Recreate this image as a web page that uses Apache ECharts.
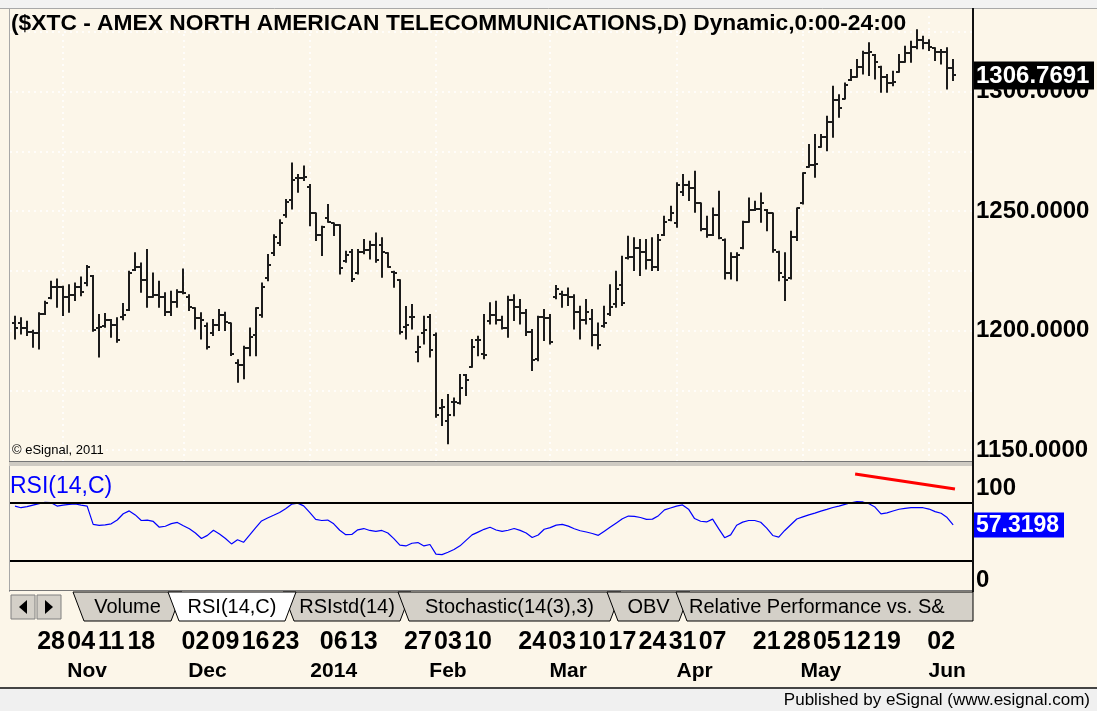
<!DOCTYPE html>
<html><head><meta charset="utf-8">
<script src="https://cdn.jsdelivr.net/npm/echarts@6/dist/echarts.min.js"></script>
<style>html,body{margin:0;padding:0;background:#fff}#c{width:1097px;height:711px}</style>
</head><body><div id="c"></div>
<script>
// ---------- DATA ----------
const opens = [1203,1203,1200.9,1199.5,1198.8,1206.9,1213.5,1218.3,1218.3,1214.2,
1214.8,1218.3,1220,1222.8,1201,1202,1204.4,1202.3,1205.5,1208.6,
1225.3,1226.4,1221.1,1214.2,1214.8,1214.2,1207.9,1212.1,1216.2,1214,
1209.3,1205.1,1202,1199,1202.3,1206.5,1203,1186.3,1185.6,1192.5,
1198.1,1206.5,1221.8,1232.3,1236.5,1248.3,1254.6,1263.7,1264,1260.2,
1249,1240,1247,1244.8,1244.1,1229,1233,1224,1233,1233.7,
1235.8,1236,1232.3,1224.3,1221,1201.5,1205.8,1191,1198.8,1205.8,
1198.1,1167.5,1162,1170.2,1169.5,1181.4,1184.9,1196,1190,1204,
1206.5,1204.4,1200.9,1212.8,1210,1207.2,1199.5,1188,1205.8,1205.1,
1214,1215.5,1214.8,1214.2,1207.9,1204.4,1205,1198.1,1202,1207,
1211,1219,1230.2,1230.9,1234.4,1233,1229.5,1226.7,1240,1246.2,
1245,1258,1260.9,1259.5,1253.2,1242.7,1240,1248.3,1238.1,1224,
1230.9,1234.4,1245.5,1250.4,1251,1250.4,1249,1233,1222.5,1221.8,
1239.3,1253.2,1268.5,1269.2,1277,1281.1,1287.4,1296.4,1297.1,1304.8,
1306.2,1310.4,1316,1315.3,1310.4,1306.2,1303.4,1308.3,1312.5,1316,
1318.8,1321.5,1320.2,1318.1,1316.7,1316.7,1309.7];
const highs = [1205.8,1205.1,1203.7,1199.9,1207.2,1212.1,1220.4,1221.4,1218.3,1219,
1219.7,1222.2,1227,1222.8,1206.5,1206.9,1204.4,1205.1,1211.1,1224.6,
1232.3,1228.1,1233.7,1223.9,1220.4,1215.6,1216.2,1216.9,1225.6,1214.8,
1209.3,1207.2,1203,1204.4,1208.6,1207.5,1203,1187.6,1193.2,1200.9,
1209.3,1219.7,1231.6,1239.9,1246.2,1254.6,1269.9,1265.1,1268.6,1260.9,
1249,1243.4,1252.5,1244.8,1244.1,1233,1233.7,1233.7,1237.9,1237.2,
1240.6,1238.6,1232.3,1224.6,1221.1,1209.9,1210.7,1197.4,1205.8,1206.5,
1198.8,1170.9,1173,1171.6,1181.4,1181.4,1196,1197.4,1206.5,1211.4,
1212.1,1205.8,1214.2,1214.8,1212.8,1208.6,1200.2,1205.8,1208.6,1206.5,
1218.6,1216.2,1217.6,1214.8,1210,1212.8,1208.6,1203,1210,1219,
1224.6,1230.9,1239.3,1238.6,1237.9,1237.9,1238.6,1240,1247.6,1251.8,
1261.6,1265.1,1262.3,1266.5,1253.2,1247.6,1251.1,1258.1,1238.1,1232.3,
1232.3,1245.5,1255.3,1253.9,1257.4,1250.4,1249,1233,1232.3,1241.3,
1251.1,1265.8,1277.6,1281.8,1281.8,1289.5,1302,1298.5,1303.4,1309,
1313.2,1316.7,1320.2,1315.3,1310.4,1306.9,1308.3,1315.3,1318.8,1320.9,
1325.7,1322.9,1321.5,1318.1,1317.4,1318.1,1313.2];
const lows = [1196.7,1198.8,1198.1,1193.2,1192.5,1206.9,1213.5,1210,1206.5,1207.9,
1212.8,1214.8,1219,1199.9,1189.1,1201.6,1197.4,1195.3,1204.7,1208.6,
1225.3,1216.2,1210,1214.2,1210,1206.5,1206.5,1210,1215.6,1208.6,
1200.9,1196.7,1192.5,1198.1,1200.2,1200.2,1189.8,1178.6,1180,1189.7,
1189.7,1205.8,1221.1,1231.6,1235.8,1247.6,1251.1,1258.1,1263,1244.1,
1237.9,1231.6,1245.5,1240,1223.9,1228.8,1220.7,1223.9,1232.3,1230.2,
1228.8,1222.5,1226.7,1218.3,1198.8,1196.7,1200.9,1187.2,1194.6,1189.1,
1163.9,1160.5,1152.8,1164.6,1169.5,1173,1184.9,1189.7,1188.4,1203,
1203,1200.9,1197.4,1204.4,1203,1198.1,1183.5,1187.6,1196,1194.6,
1213.5,1210,1210.7,1200.9,1196.7,1203,1193.9,1192.5,1201.6,1206.5,
1210,1210.7,1230.2,1225.3,1223.2,1226,1225.3,1225.3,1240,1246.2,
1243.4,1256.7,1254.6,1249.7,1242,1239.3,1240,1238.6,1221.8,1221.8,
1221.1,1234.4,1245.5,1250.4,1245.5,1242,1233,1221.1,1212.8,1221.8,
1237.9,1253.2,1268.5,1264.4,1276.9,1275.5,1281.1,1289.5,1297.1,1304.8,
1306.2,1307.6,1306.9,1305.5,1299.9,1299.9,1302.7,1308.3,1312.5,1312.5,
1318.1,1318.1,1317.4,1313.2,1311.8,1301.3,1304.8];
const closes = [1200.9,1200.9,1199.5,1198.8,1206.9,1211.6,1218.3,1218.3,1214.2,1214.8,
1218.3,1216.2,1226.7,1200.2,1201.6,1204.4,1202.3,1196,1206.5,1223.9,
1226.4,1221.1,1214.2,1214.8,1214.2,1207.9,1212.1,1216.2,1215.6,1210,
1205.1,1204.4,1193.2,1202.3,1206.5,1203.7,1190.4,1185.6,1192.5,1197.4,
1209.3,1218.3,1227.4,1239.3,1244.8,1253.9,1263,1263.7,1264.4,1249,
1240,1243.4,1245.5,1244.1,1226,1231.6,1221.5,1233,1233.7,1235.8,
1229.5,1233,1226.7,1223.9,1199.5,1202.3,1205.8,1193.2,1200.2,1191.8,
1164.6,1168.1,1164.6,1170.2,1175.8,1179.3,1193.2,1196,1189.7,1206.5,
1204.4,1200.9,1212.8,1210,1207.2,1199.5,1187.6,1205.8,1205.1,1195.3,
1217.6,1214.8,1214.2,1207.9,1204.4,1207.9,1198.1,1193.9,1203,1210,
1217.6,1211.4,1230.9,1234.4,1233,1229.5,1226.7,1237.9,1245.5,1249,
1260.9,1260.9,1259.5,1253.2,1242.7,1240,1248.3,1238.6,1224,1230.9,
1231.5,1245.5,1250.4,1251,1253.2,1249,1233.7,1224,1221.1,1239.3,
1251.1,1265.8,1269.2,1269.9,1281.1,1287.4,1296.4,1293,1302.7,1306.2,
1310.4,1316,1316.7,1312.5,1306.2,1303.4,1304.1,1312.5,1316,1318.8,
1321.5,1320.2,1318.8,1316.7,1316.7,1309.7,1306.7691];
const rsi = [77,75.3,76.5,78,79.5,81,80.5,77,78,78.8,
79.2,78,77,58,57,57.5,58.5,62.5,69,72,
67.8,62,62.3,61,55,56,58.7,60,56.6,53.4,
49,43.3,46.5,51.9,48,43.2,37.6,41.9,39.3,46.7,
54.2,61.5,64.6,67.4,70.3,74.3,79,80.1,77.2,70.4,
63.2,62,62.4,58.5,51.8,47.2,47.4,52.3,53.6,51.6,
50.7,51.6,48.9,43.1,36.3,35.5,38.3,39,35.5,37,
27,26.5,28.9,31.7,35.6,41.3,47,49.9,52.8,55,
52.1,50.6,51.8,53.6,51.7,48.9,44.2,46.9,52.9,54.6,
57.2,58,56.1,53.4,51.3,50,48.4,46.5,50.9,55.2,
59.5,63.8,66.6,66.2,65.1,63.2,63.4,67,73,75,
77,78.2,73.8,64,61.2,60.5,63.4,53.5,44.1,47,
57,60.3,62,62,60.2,54,46.4,44.7,51.6,57.6,
63.5,65.7,67.9,69.7,71.8,73.6,75.5,77,78.8,80.5,
81.7,81.3,79.4,76,68.8,70,71.9,73.7,74.7,75.3,
75.3,75.3,73.9,71.2,69.5,65,57.3198];
const lastPrice = 1306.7691;
const lastRsi = 57.3198;
// tick labels (bar index -> text)
const weekTickIdx  = [6,11,16,21,30,35,40,45,53,58,67,72,77,86,91,96,101,106,111,116,125,130,135,140,145,154];
const weekTickText = ['28','04','11','18','02','09','16','23','06','13','27','03','10','24','03','10','17','24','31','07','21','28','05','12','19','02'];
const monthTickIdx  = [12,32,53,72,92,113,134,155];
const monthTickText = ['Nov','Dec','2014','Feb','Mar','Apr','May','Jun'];
const vGridIdx = [8,28,49,70,89,110,131,152];
const priceTicks = [1150,1200,1250,1300];
const priceGridVals = [1150,1175,1200,1225,1250,1275,1300,1325];
const rsiTicks = [0,100];
const rsiBands = [80,20];
const rsiTrend = [[139.7,110.4],[156.3,94.8]];
const titleText = '($XTC - AMEX NORTH AMERICAN TELECOMMUNICATIONS,D) Dynamic,0:00-24:00';
const tabNames = ['Volume','RSI(14,C)','RSIstd(14)','Stochastic(14(3),3)','OBV','Relative Performance vs. S&'];
const selectedTab = 1;

// ---------- CHART ----------
const FONT = '"Liberation Sans", Arial, Helvetica, sans-serif';
const BG = '#FCF6E9';
const X_MIN = -0.83, X_MAX = 159.3;
const chart = echarts.init(document.getElementById('c'), null, {renderer:'canvas', width:1097, height:711});
const ohlc = opens.map((o,i)=>[i,o,highs[i],lows[i],closes[i]]);

function renderOHLC(params, api){
  const i = api.value(0);
  const o = api.coord([i, api.value(1)]);
  const h = api.coord([i, api.value(2)]);
  const l = api.coord([i, api.value(3)]);
  const c = api.coord([i, api.value(4)]);
  const x = Math.round(o[0]);
  const st = {stroke:'#1c1c1c', lineWidth:2};
  return {type:'group', children:[
    {type:'line', shape:{x1:x, y1:h[1]-1, x2:x, y2:l[1]+1}, style:st},
    {type:'line', shape:{x1:x-3, y1:Math.round(o[1]), x2:x, y2:Math.round(o[1])}, style:st},
    {type:'line', shape:{x1:x, y1:Math.round(c[1]), x2:x+3, y2:Math.round(c[1])}, style:st}
  ]};
}
const labelFont = {fontFamily:FONT, fontWeight:'bold', color:'#000'};
const dotted = {color:'#ffffff', type:[2,4], width:1.5};
const noLine = {show:false, onZero:false};
const option = {
  animation:false,
  backgroundColor:BG,
  grid:[{left:10,right:124,top:12,height:450},{left:10,right:124,top:467,height:123}],
  xAxis:[
    {type:'value', gridIndex:0, position:'bottom', min:X_MIN, max:X_MAX, axisLine:noLine, axisLabel:{show:false},
     axisTick:{show:false}, splitLine:{show:false}},
    {type:'value', gridIndex:1, position:'bottom', min:X_MIN, max:X_MAX, axisLine:noLine, axisTick:{show:false}, splitLine:{show:false},
     axisLabel:Object.assign({customValues:weekTickIdx, formatter:v=>weekTickText[weekTickIdx.indexOf(v)], margin:40, fontSize:25}, labelFont)},
    {type:'value', gridIndex:1, position:'bottom', min:X_MIN, max:X_MAX, axisLine:noLine, axisTick:{show:false}, splitLine:{show:false},
     axisLabel:Object.assign({customValues:monthTickIdx, formatter:v=>monthTickText[monthTickIdx.indexOf(v)], margin:71, fontSize:21}, labelFont)}
  ],
  yAxis:[
    {type:'value', gridIndex:0, position:'right', min:1145, max:1333.3,
     axisLine:{show:true, onZero:false, lineStyle:{color:'#111', width:2}},
     axisTick:{show:false, customValues:priceGridVals},
     axisLabel:Object.assign({customValues:priceTicks, formatter:v=>v.toFixed(4), fontSize:24, margin:3}, labelFont),
     splitLine:{show:true, lineStyle:dotted}},
    {type:'value', gridIndex:1, position:'right', min:-10.4, max:117.7,
     axisLine:{show:true, onZero:false, lineStyle:{color:'#111', width:2}}, axisTick:{show:false},
     axisLabel:Object.assign({customValues:rsiTicks, margin:3, fontSize:24,
       formatter:v=> v===100 ? '{d|100}' : String(v),
       rich:{d:{fontSize:24, fontWeight:'bold', fontFamily:FONT, color:'#000', padding:[9,0,0,0]}}}, labelFont),
     splitLine:{show:false}}
  ],
  series:[
    {type:'line', xAxisIndex:0, yAxisIndex:0, data:[], z:1, silent:true,
     markLine:{z:1, symbol:'none', silent:true, label:{show:false}, emphasis:{disabled:true},
       lineStyle:dotted, data:vGridIdx.map(v=>({xAxis:v}))}},
    {type:'custom', xAxisIndex:0, yAxisIndex:0, data:ohlc, encode:{x:0, y:[1,2,3,4]}, renderItem:renderOHLC, silent:true, z:3},
    {type:'line', xAxisIndex:1, yAxisIndex:1, data:rsi.map((v,i)=>[i,v]), symbol:'none', silent:true,
     lineStyle:{color:'#0000ff', width:1.2},
     markLine:{symbol:'none', silent:true, label:{show:false}, emphasis:{disabled:true},
       lineStyle:{color:'#000', width:2, type:'solid'}, data:rsiBands.map(v=>({yAxis:v}))}},
    {type:'line', xAxisIndex:1, yAxisIndex:1, data:rsiTrend, symbol:'none', silent:true,
     lineStyle:{color:'#ff0000', width:3}}
  ]
};
chart.setOption(option);

// ---------- DECORATION (frame, tabs, boxes, texts) ----------
const pPrice = chart.convertToPixel({xAxisIndex:0, yAxisIndex:0}, [closes.length-1, lastPrice]);
const pRsi = chart.convertToPixel({xAxisIndex:1, yAxisIndex:1}, [rsi.length-1, lastRsi]);
const g = [];
g.push({type:'rect', shape:{x:0,y:0,width:1097,height:8}, style:{fill:'#f2f2f2'}, z:-5});
g.push({type:'line', shape:{x1:0,y1:8.5,x2:1097,y2:8.5}, style:{stroke:'#a8a8a8', lineWidth:1}, z:-4});
g.push({type:'line', shape:{x1:9.5,y1:8,x2:9.5,y2:592}, style:{stroke:'#a8a8a8', lineWidth:1}, z:-4});
g.push({type:'rect', shape:{x:9,y:461,width:964,height:5}, style:{fill:'#cfcbc3'}, z:5});
g.push({type:'line', shape:{x1:9,y1:461.5,x2:973,y2:461.5}, style:{stroke:'#777', lineWidth:1}, z:5});
g.push({type:'line', shape:{x1:9,y1:590.5,x2:973,y2:590.5}, style:{stroke:'#777', lineWidth:1}, z:5});
g.push({type:'line', shape:{x1:973,y1:8,x2:973,y2:592}, style:{stroke:'#111', lineWidth:2}, z:6});
// tab row
const tabGeom = [[73,182],[168,296],[283,411],[398,621],[607,690],[676,973]];
const tabShape = (L,R,last)=>[[L,592],[R,592],[last?R:R-11,621],[L+11,621]];
g.push({type:'rect', shape:{x:11,y:595,width:24,height:24}, style:{fill:'#d4d0c8', stroke:'#808080', lineWidth:1}, z:7});
g.push({type:'rect', shape:{x:37,y:595,width:24,height:24}, style:{fill:'#d4d0c8', stroke:'#808080', lineWidth:1}, z:7});
g.push({type:'polygon', shape:{points:[[27,600],[27,614],[19,607]]}, style:{fill:'#000'}, z:8});
g.push({type:'polygon', shape:{points:[[45,600],[45,614],[53,607]]}, style:{fill:'#000'}, z:8});
tabNames.forEach((name,k)=>{
  const [L,R] = tabGeom[k];
  const sel = k===selectedTab;
  const last = k===tabNames.length-1;
  const z = sel ? 20 : 10 + k;
  g.push({type:'polygon', shape:{points:tabShape(L,R,last)}, style:{fill: sel?'#ffffff':'#d4d0c8', stroke:'#000', lineWidth:1}, z:z});
  g.push({type:'text', x: last ? L+13 : (L+R)/2, y:607, z:z,
    style:{text:name, fill:'#000', font:'20px '+FONT, align: last?'left':'center', verticalAlign:'middle'}});
});
// footer
g.push({type:'line', shape:{x1:0,y1:688,x2:1097,y2:688}, style:{stroke:'#444', lineWidth:2}, z:5});
g.push({type:'rect', shape:{x:0,y:689,width:1097,height:22}, style:{fill:'#f0f0f0'}, z:5});
g.push({type:'text', x:1090, y:700, z:6, style:{text:'Published by eSignal (www.esignal.com)', fill:'#000', font:'17px '+FONT, align:'right', verticalAlign:'middle'}});
// texts
g.push({type:'text', x:11, y:24, z:30, style:{text:titleText, fill:'#000', font:'bold 22.8px '+FONT, align:'left', verticalAlign:'middle'}});
g.push({type:'text', x:12, y:450, z:30, style:{text:'\u00A9 eSignal, 2011', fill:'#000', font:'13px '+FONT, align:'left', verticalAlign:'middle'}});
g.push({type:'text', x:10, y:487, z:30, style:{text:'RSI(14,C)', fill:'#0000ff', font:'23px '+FONT, align:'left', verticalAlign:'middle'}});
// last value boxes
g.push({type:'rect', shape:{x:974,y:pPrice[1]-14,width:120,height:28}, style:{fill:'#000'}, z:40});
g.push({type:'text', x:976, y:pPrice[1]+1, z:41, style:{text:lastPrice.toFixed(4), fill:'#fff', font:'bold 24px '+FONT, align:'left', verticalAlign:'middle'}});
g.push({type:'rect', shape:{x:974,y:pRsi[1]-12.5,width:90,height:25}, style:{fill:'#0000ff'}, z:40});
g.push({type:'text', x:976, y:pRsi[1]+1, z:41, style:{text:lastRsi.toFixed(4), fill:'#fff', font:'bold 23px '+FONT, align:'left', verticalAlign:'middle'}});
chart.setOption({graphic:{elements:g}});
</script>
</body></html>
